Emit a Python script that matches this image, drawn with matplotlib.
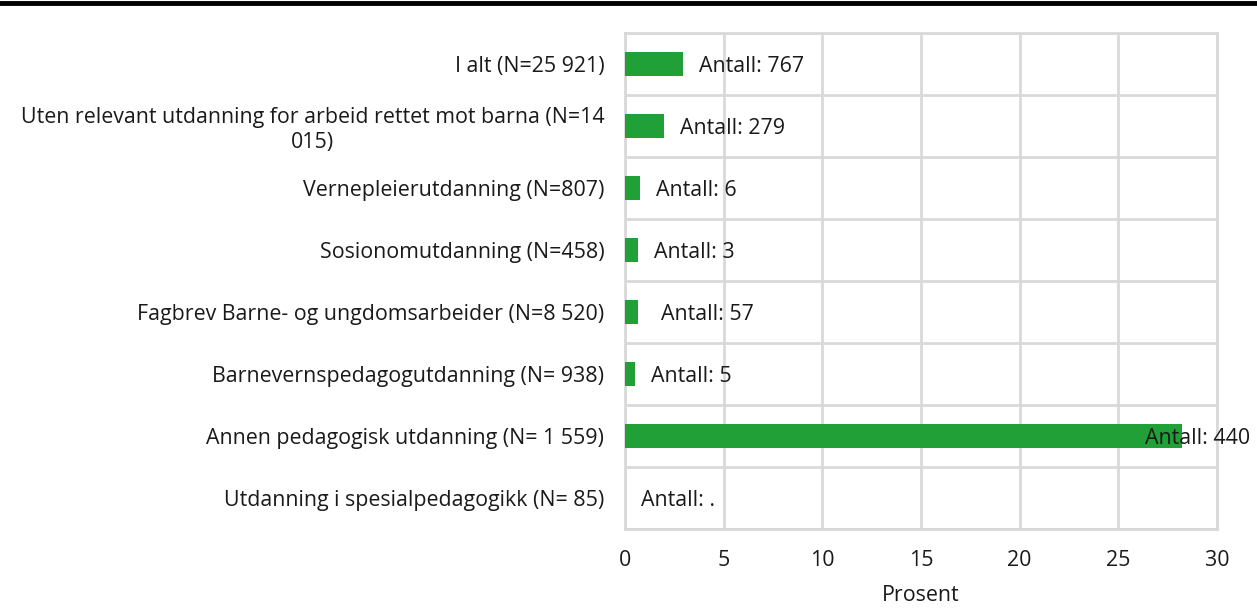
import matplotlib
matplotlib.use("Agg")
import matplotlib.pyplot as plt
from matplotlib.lines import Line2D
import numpy as np

plt.rcParams['font.family'] = ['Open Sans', 'DejaVu Sans']

categories = [
    "I alt (N=25 921)",
    "Uten relevant utdanning for arbeid rettet mot barna (N=14\n015)",
    "Vernepleierutdanning (N=807)",
    "Sosionomutdanning (N=458)",
    "Fagbrev Barne- og ungdomsarbeider (N=8 520)",
    "Barnevernspedagogutdanning (N= 938)",
    "Annen pedagogisk utdanning (N= 1 559)",
    "Utdanning i spesialpedagogikk (N= 85)",
]
percent = [2.96, 1.99, 0.74, 0.66, 0.67, 0.53, 28.22, 0.0]
counts = ["767", "279", "6", "3", "57", "5", "440", "."]

GREEN = "#21a038"
GRID = "#d9d9d9"
TXT = "#1a1a1a"
FS = 15.4

fig = plt.figure(figsize=(12.57, 6.09), dpi=100)
ax = fig.add_axes([625/1257, 1-529/609, (1217-625)/1257, (529-33)/609])

y = np.arange(len(categories))
ax.barh(y, percent, height=0.4, color=GREEN, zorder=3)
ax.set_ylim(len(categories)-0.5, -0.5)
ax.set_xlim(0, 30)
ax.set_xticks(np.arange(0, 31, 5))
ax.set_yticks(y)
ax.set_yticklabels(categories, multialignment='center')
ax.set_yticks(np.arange(-0.5, len(categories), 1), minor=True)
ax.tick_params(axis='y', which='both', length=0, pad=15, labelsize=FS, labelcolor=TXT)
ax.tick_params(axis='x', length=0, pad=15, labelsize=FS, labelcolor=TXT)
ax.grid(True, axis='x', which='major', color=GRID, linewidth=2, zorder=0)
ax.grid(True, axis='y', which='minor', color=GRID, linewidth=2, zorder=0)
for s in ax.spines.values():
    s.set_color(GRID)
    s.set_linewidth(2)
ax.set_xlabel("Prosent", fontsize=FS, color=TXT, labelpad=10)

for i, (p, c) in enumerate(zip(percent, counts)):
    label = f"Antall: {c}"
    if p > 25:
        ax.annotate(label, xy=(30, i), xytext=(33, -2), textcoords='offset pixels',
                    ha='right', va='center', fontsize=FS, color=TXT, zorder=4,
                    annotation_clip=False)
    else:
        off = 23 if c == "57" else 16
        ax.annotate(label, xy=(p, i), xytext=(off, -2), textcoords='offset pixels',
                    ha='left', va='center', fontsize=FS, color=TXT, zorder=4)

fig.add_artist(Line2D([0, 1], [1-3/609, 1-3/609], color='black', linewidth=3.5,
                      transform=fig.transFigure))

fig.savefig("out.png", dpi=100)
